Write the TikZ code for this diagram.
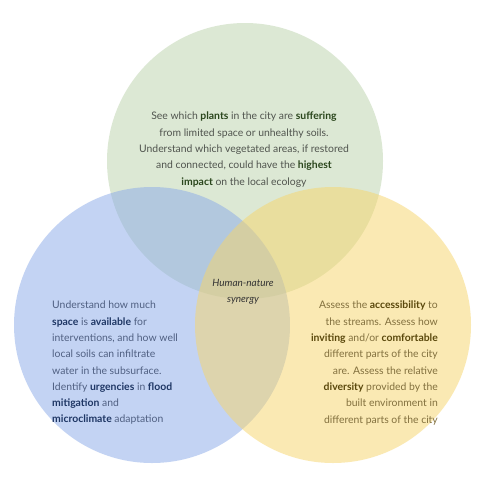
\documentclass[tikz,border=0pt]{standalone}
\usepackage{fontspec}
\setmainfont{Lato}
\begin{document}
\begin{tikzpicture}[x=1pt,y=-1pt,
  set/.style={fill opacity=0.5, draw=none},
  txt/.style={font=\fontsize{10.4}{16.3}\selectfont, inner sep=0pt},
]
\definecolor{greenset}{RGB}{187,211,171}
\definecolor{blueset}{RGB}{137,169,233}
\definecolor{yellowset}{RGB}{247,213,105}
\definecolor{greentext}{RGB}{80,84,78}
\definecolor{greenbold}{RGB}{42,70,28}
\definecolor{bluetext}{RGB}{80,96,130}
\definecolor{bluebold}{RGB}{30,54,100}
\definecolor{yellowtext}{RGB}{130,112,62}
\definecolor{yellowbold}{RGB}{90,72,12}
\useasboundingbox (0,0) rectangle (493,483);
\fill[white] (0,0) rectangle (493,483);

% the three sets
\fill[set, greenset] (245,161) circle[radius=138];
\fill[set, blueset] (152,325) circle[radius=138];
\fill[set, yellowset] (333,325) circle[radius=138];

% ecology
\node[txt, align=center, text=greentext, anchor=north] (eco) at (244,112)
 {See which \textcolor{greenbold}{\bfseries plants} in the city are \textcolor{greenbold}{\bfseries suffering}\\
  from limited space or unhealthy soils.\\
  Understand which vegetated areas, if restored\\
  and connected, could have the \textcolor{greenbold}{\bfseries highest}\\
  \textcolor{greenbold}{\bfseries impact} on the local ecology};

% water and climate
\node[txt, align=left, text=bluetext, anchor=north west] (water) at (52,301)
 {Understand how much\\
  \textcolor{bluebold}{\bfseries space} is \textcolor{bluebold}{\bfseries available} for\\
  interventions, and how well\\
  local soils can infiltrate\\
  water in the subsurface.\\
  Identify \textcolor{bluebold}{\bfseries urgencies} in \textcolor{bluebold}{\bfseries flood}\\
  \textcolor{bluebold}{\bfseries mitigation} and\\
  \textcolor{bluebold}{\bfseries microclimate} adaptation};

% people
\node[txt, align=right, text=yellowtext, anchor=north east] (people) at (438,301)
 {Assess the \textcolor{yellowbold}{\bfseries accessibility} to\\
  the streams. Assess how\\
  \textcolor{yellowbold}{\bfseries inviting} and/or \textcolor{yellowbold}{\bfseries comfortable}\\
  different parts of the city\\
  are. Assess the relative\\
  \textcolor{yellowbold}{\bfseries diversity} provided by the\\
  built environment in\\
  different parts of the city};

% centre
\node[txt, align=center, text=black!80, font=\fontsize{10}{16.2}\selectfont\itshape] (synergy) at (243,292)
 {Human-nature\\synergy};
\end{tikzpicture}
\end{document}
